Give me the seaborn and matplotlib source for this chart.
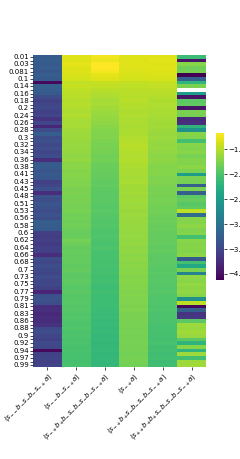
import numpy as np
import seaborn as sns
import matplotlib.pyplot as plt

# row labels (every second row is labelled in the original)
row_labels = ["0.01", "0.03", "0.081", "0.1", "0.14", "0.16", "0.18", "0.2", "0.24",
              "0.26", "0.28", "0.3", "0.32", "0.34", "0.36", "0.38", "0.41", "0.43",
              "0.45", "0.48", "0.51", "0.53", "0.56", "0.58", "0.6", "0.62", "0.64",
              "0.66", "0.68", "0.7", "0.73", "0.75", "0.77", "0.79", "0.81", "0.83",
              "0.86", "0.88", "0.9", "0.92", "0.94", "0.97", "0.99"]

col_labels = [r"$(s_{--}b_{-}s_{-}b_{-}s_{-+}a)$",
              r"$(s_{--}b_{-}s_{-+}a)$",
              r"$(s_{-+}b_{+}b_{-}s_{-}b_{-}s_{-}b_{-}s_{-+}a)$",
              r"$(s_{-+}a)$",
              r"$(s_{-+}b_{+}s_{-}b_{-}s_{-}b_{-}s_{-+}a)$",
              r"$(s_{++}b_{+}b_{+}s_{-}b_{-}s_{-}b_{-}s_{-+}a)$"]

col0 = [-3.28, -3.25, -3.30, -3.26, -3.32, -3.27, -3.30, -4.06, -3.24, -3.26,
        -3.30, -3.45, -3.55, -3.50, -3.48, -3.56, -3.50, -3.68, -3.50, -3.80,
        -3.45, -3.25, -3.45, -3.40, -3.48, -3.42, -3.50, -3.44, -3.75, -3.30,
        -3.28, -3.35, -3.30, -3.32, -3.55, -3.50, -3.40, -3.75, -3.38, -3.42,
        -3.36, -3.40, -3.44, -3.38, -3.45, -3.25, -3.28, -3.30, -3.58, -3.60,
        -3.55, -3.62, -3.56, -3.58, -3.75, -3.45, -3.50, -3.42, -3.48, -3.52,
        -3.45, -3.50, -3.47, -3.55, -3.82, -3.40, -3.38, -3.42, -3.75, -3.72,
        -3.78, -3.74, -3.76, -3.70, -3.48, -3.45, -3.50, -3.55, -3.46, -3.50,
        -4.05, -3.55, -3.52, -3.58, -3.54]

col1 = [-1.32, -1.33, -1.30, -1.34, -1.33, -1.36, -1.38, -1.46, -1.44, -1.47,
        -1.49, -1.50, -1.52, -1.51, -1.53, -1.55, -1.52, -1.56, -1.58, -1.57,
        -1.60, -1.62, -1.61, -1.63, -1.65, -1.64, -1.66, -1.68, -1.66, -1.70,
        -1.69, -1.72, -1.71, -1.73, -1.75, -1.74, -1.77, -1.76, -1.78, -1.77,
        -1.79, -1.80, -1.78, -1.82, -1.81, -1.83, -1.82, -1.84, -1.86, -1.85,
        -1.80, -1.84, -1.87, -1.86, -1.88, -1.87, -1.89, -1.90, -1.88, -1.91,
        -1.92, -1.90, -1.93, -1.94, -1.92, -1.95, -1.96, -1.94, -1.97, -1.96,
        -1.98, -1.97, -1.99, -2.00, -1.98, -2.01, -2.00, -2.02, -2.01, -2.03,
        -2.02, -2.04, -2.03, -2.05, -2.04]

col2 = [-1.24, -1.28, -1.20, -1.19, -1.22, -1.30, -1.34, -1.44, -1.46, -1.50,
        -1.53, -1.55, -1.58, -1.57, -1.60, -1.62, -1.64, -1.66, -1.68, -1.70,
        -1.72, -1.74, -1.73, -1.76, -1.78, -1.77, -1.80, -1.82, -1.81, -1.84,
        -1.85, -1.86, -1.88, -1.87, -1.90, -1.89, -1.91, -1.92, -1.93, -1.92,
        -1.94, -1.95, -1.93, -1.96, -1.97, -1.98, -1.97, -1.99, -2.00, -1.99,
        -2.01, -2.02, -2.00, -2.03, -2.04, -2.03, -2.05, -2.04, -2.06, -2.05,
        -2.07, -2.06, -2.08, -2.09, -2.07, -2.10, -2.09, -2.11, -2.10, -2.12,
        -2.13, -2.12, -2.14, -2.13, -2.15, -2.14, -2.16, -2.15, -2.17, -2.16,
        -2.15, -2.17, -2.16, -2.18, -2.17]

col3 = [-1.34, -1.33, -1.32, -1.34, -1.35, -1.36, -1.38, -1.45, -1.47, -1.48,
        -1.50, -1.51, -1.50, -1.52, -1.53, -1.54, -1.53, -1.55, -1.54, -1.56,
        -1.55, -1.54, -1.53, -1.52, -1.50, -1.51, -1.52, -1.53, -1.52, -1.54,
        -1.55, -1.56, -1.57, -1.58, -1.57, -1.59, -1.60, -1.59, -1.61, -1.60,
        -1.62, -1.61, -1.63, -1.62, -1.64, -1.63, -1.65, -1.64, -1.66, -1.65,
        -1.67, -1.66, -1.68, -1.67, -1.69, -1.68, -1.70, -1.69, -1.71, -1.70,
        -1.72, -1.71, -1.73, -1.72, -1.74, -1.73, -1.75, -1.74, -1.76, -1.75,
        -1.77, -1.76, -1.78, -1.77, -1.79, -1.78, -1.80, -1.79, -1.78, -1.80,
        -1.79, -1.81, -1.80, -1.79, -1.81]

col4 = [-1.32, -1.31, -1.33, -1.32, -1.34, -1.35, -1.37, -1.44, -1.46, -1.48,
        -1.50, -1.52, -1.54, -1.53, -1.55, -1.57, -1.56, -1.58, -1.60, -1.59,
        -1.61, -1.63, -1.62, -1.64, -1.66, -1.65, -1.67, -1.69, -1.68, -1.70,
        -1.72, -1.71, -1.73, -1.75, -1.74, -1.76, -1.78, -1.77, -1.79, -1.78,
        -1.80, -1.82, -1.81, -1.83, -1.85, -1.84, -1.86, -1.85, -1.87, -1.88,
        -1.87, -1.89, -1.90, -1.89, -1.91, -1.92, -1.91, -1.93, -1.94, -1.93,
        -1.95, -1.94, -1.96, -1.97, -1.96, -1.98, -1.99, -1.98, -2.00, -1.99,
        -2.01, -2.02, -2.01, -2.03, -2.04, -2.03, -2.05, -2.06, -2.04, -2.07,
        -2.06, -2.08, -2.07, -2.09, -2.08]

col5 = [-2.12, -3.97, -1.71, -1.83, -1.80, -4.12, -3.24, -2.21, -1.77, np.nan,
        -2.50, -3.97, -1.92, -1.90, -3.97, -1.77, -1.80, -3.77, -3.72, -2.21,
        -2.65, -1.71, -1.74, -2.06, -1.71, -1.75, -1.70, -1.78, -1.72, -1.74,
        -1.69, -1.76, -2.50, -1.77, -1.80, -3.24, -1.77, -3.24, -1.92, -1.88,
        -1.95, -1.90, -1.47, -3.09, -1.71, -1.73, -1.68, -1.75, -1.72, -2.06,
        -1.70, -1.73, -1.71, -1.74, -1.69, -3.30, -2.06, -2.36, -1.77, -2.80,
        -1.68, -1.70, -1.66, -1.69, -1.67, -1.71, -2.65, -1.47, -4.06, -3.24,
        -3.68, -3.65, -1.92, -1.62, -1.64, -1.60, -1.63, -1.92, -2.21, -1.71,
        -2.21, -1.62, -2.06, -1.62, -1.60]

data = np.column_stack([col0, col1, col2, col3, col4, col5])

# ticks on every row, label on every second one
ytl = []
for lab in row_labels:
    ytl += [lab, ""]
ytl = ytl[:data.shape[0]]

fig = plt.figure(figsize=(2.4, 4.59), dpi=100)
ax = fig.add_axes([0.1375, 0.2004, 0.7205, 0.6796])
cax = fig.add_axes([0.9, 0.39, 0.0333, 0.32])

sns.heatmap(data, ax=ax, cbar_ax=cax, cmap="viridis", vmin=-4.12, vmax=-1.18,
            xticklabels=col_labels, yticklabels=ytl)

ax.tick_params(axis="y", labelsize=5, length=2, width=0.5, pad=1)
ax.tick_params(axis="x", labelsize=5, length=2, width=0.5, pad=1)
plt.setp(ax.get_yticklabels(), rotation=0)
plt.setp(ax.get_xticklabels(), rotation=45, ha="right", rotation_mode="anchor")

cax.set_yticks([-1.5, -2.0, -2.5, -3.0, -3.5, -4.0])
cax.tick_params(labelsize=5, length=2, width=0.5, pad=1)

fig.savefig("out.png", dpi=100)
